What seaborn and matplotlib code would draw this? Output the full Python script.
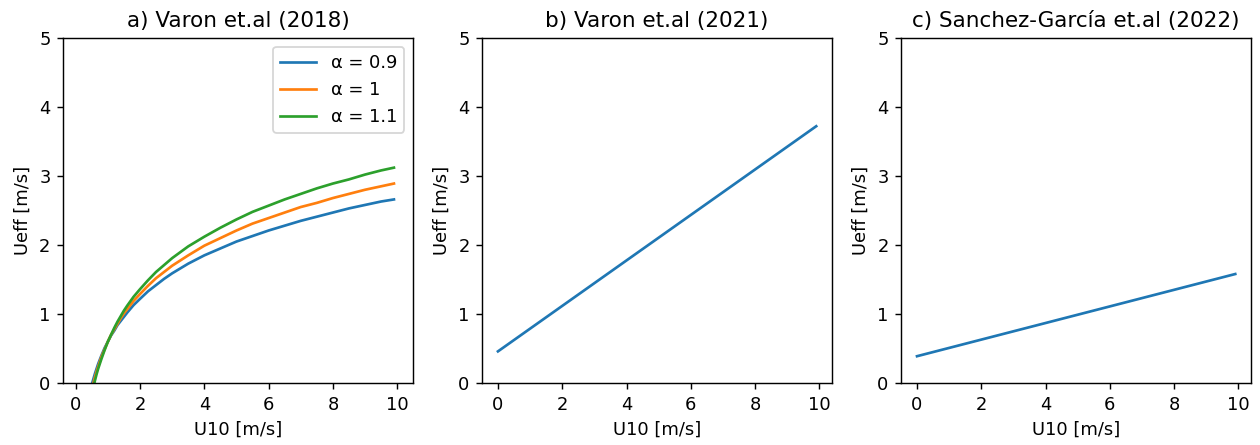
import numpy as np
import pandas as pd
import matplotlib
matplotlib.use("Agg")
import matplotlib.pyplot as plt
import seaborn as sns

# Panel a) Varon et.al (2018)
u10_a = [0.4, 0.45, 0.5, 0.55, 0.6, 0.65, 0.7, 0.75, 0.8, 0.9, 1.0, 1.1, 1.2, 1.3,
         1.4, 1.5, 1.6, 1.8, 2.0, 2.25, 2.5, 2.75, 3.0, 3.5, 4.0, 4.5, 5.0, 5.5,
         6.0, 6.5, 7.0, 7.5, 8.0, 8.5, 9.0, 9.5, 9.9]
ueff_a09 = [-0.22, -0.12, -0.02, 0.06, 0.14, 0.21, 0.28, 0.34, 0.40, 0.51, 0.60, 0.69,
            0.76, 0.84, 0.90, 0.96, 1.02, 1.13, 1.22, 1.33, 1.42, 1.51, 1.59, 1.73,
            1.85, 1.95, 2.05, 2.13, 2.21, 2.28, 2.35, 2.41, 2.47, 2.53, 2.58, 2.63, 2.66]
ueff_a10 = [-0.32, -0.20, -0.09, 0.00, 0.09, 0.17, 0.24, 0.31, 0.38, 0.49, 0.60, 0.70,
            0.78, 0.86, 0.94, 1.01, 1.07, 1.19, 1.29, 1.41, 1.52, 1.61, 1.70, 1.85,
            1.99, 2.10, 2.21, 2.31, 2.39, 2.47, 2.55, 2.61, 2.68, 2.74, 2.80, 2.85, 2.89]
ueff_a11 = [-0.41, -0.28, -0.16, -0.06, 0.04, 0.13, 0.21, 0.28, 0.35, 0.48, 0.60, 0.70,
            0.80, 0.89, 0.97, 1.05, 1.12, 1.25, 1.36, 1.49, 1.61, 1.71, 1.81, 1.98,
            2.12, 2.25, 2.37, 2.48, 2.57, 2.66, 2.74, 2.82, 2.89, 2.95, 3.02, 3.08, 3.12]
alpha_labels = ["α = 0.9", "α = 1", "α = 1.1"]

# Panel b) Varon et.al (2021)
u10_b = [0.0, 9.9]
ueff_b = [0.46, 3.72]

# Panel c) Sanchez-García et.al (2022)
u10_c = [0.0, 9.9]
ueff_c = [0.39, 1.58]

titles = ["a) Varon et.al (2018)", "b) Varon et.al (2021)", "c) Sanchez-García et.al (2022)"]

plt.rcParams["font.family"] = ["DejaVu Sans"]
colors = sns.color_palette("tab10")

DPI = 129
fig, axes = plt.subplots(1, 3, figsize=(1260 / DPI, 445 / DPI), dpi=DPI)
fig.subplots_adjust(left=0.05, right=0.993, bottom=0.139, top=0.915, wspace=0.197)

ax = axes[0]
for ys, lab, col in zip([ueff_a09, ueff_a10, ueff_a11], alpha_labels, colors[:3]):
    df = pd.DataFrame({"U10": u10_a, "Ueff": ys})
    sns.lineplot(data=df, x="U10", y="Ueff", ax=ax, color=col, label=lab, linewidth=1.5)
ax.set_xlim(-0.395, 10.495)
ax.legend(loc="upper right")

df_b = pd.DataFrame({"U10": u10_b, "Ueff": ueff_b})
sns.lineplot(data=df_b, x="U10", y="Ueff", ax=axes[1], color=colors[0], linewidth=1.5)
axes[1].set_xlim(-0.495, 10.395)

df_c = pd.DataFrame({"U10": u10_c, "Ueff": ueff_c})
sns.lineplot(data=df_c, x="U10", y="Ueff", ax=axes[2], color=colors[0], linewidth=1.5)
axes[2].set_xlim(-0.495, 10.395)

for ax, t in zip(axes, titles):
    ax.set_ylim(0, 5)
    ax.set_xticks([0, 2, 4, 6, 8, 10])
    ax.set_title(t)
    ax.set_xlabel("U10 [m/s]")
    ax.set_ylabel("Ueff [m/s]")

fig.savefig("out.png", dpi=DPI)
